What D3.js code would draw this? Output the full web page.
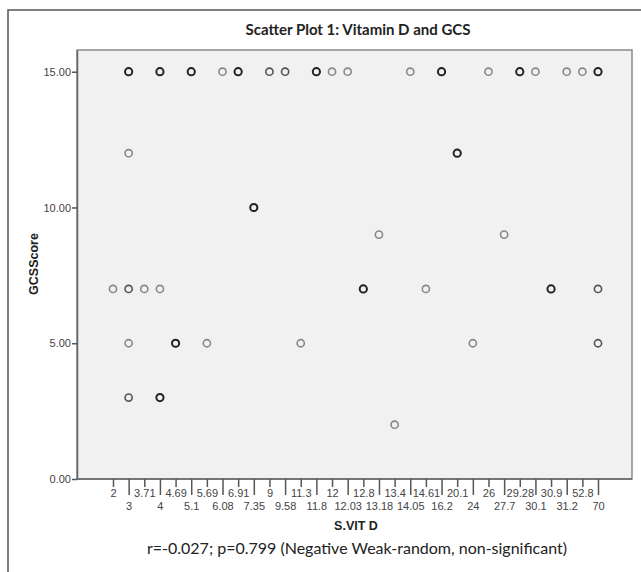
<!DOCTYPE html>
<html>
<head>
<meta charset="utf-8">
<script src="https://cdn.jsdelivr.net/npm/d3@7/dist/d3.min.js"></script>
<style>
  html, body { margin: 0; padding: 0; background: #fff; }
  svg { display: block; }
</style>
</head>
<body>
<svg id="chart" width="641" height="572"></svg>
<script>
// ---- data ----
const categories = ["2","3","3.71","4","4.69","5.1","5.69","6.08","6.91","7.35","9","9.58","11.3","11.8","12","12.03","12.8","13.18","13.4","14.05","14.61","16.2","20.1","24","26","27.7","29.28","30.1","30.9","31.2","52.8","70"];
const yTicks = [0, 5, 10, 15];
// points: S.VIT D category, GCS score, number of overlapping cases
const pointX = ["3","4","5.1","6.08","6.91","9","9.58","11.8","12","12.03","14.05","16.2","26","29.28","30.1","31.2","52.8","70",
                "3","20.1",
                "7.35",
                "13.18","27.7",
                "2","3","3.71","4","12.8","14.61","30.9","70",
                "3","4.69","5.69","11.3","24","70",
                "3","4",
                "13.4"];
const pointY = [15,15,15,15,15,15,15,15,15,15,15,15,15,15,15,15,15,15,
                12,12,
                10,
                9,9,
                7,7,7,7,7,7,7,7,
                5,5,5,5,5,5,
                3,3,
                2];
const pointN = [3,3,3,1,3,2,2,3,1,1,1,3,1,3,1,1,1,3,
                1,3,
                3,
                1,1,
                1,2,1,1,3,1,3,2,
                1,3,1,1,1,2,
                2,3,
                1];

// ---- layout ----
const svg = d3.select("#chart");
const plot = { left: 77, right: 632, top: 50, bottom: 479 };

// outer frame
svg.append("path")
  .attr("d", `M8,572 L8,10 L641,10`)
  .attr("fill", "none").attr("stroke", "#555").attr("stroke-width", 1.5);

// title
svg.append("text")
  .attr("x", 358).attr("y", 35)
  .attr("text-anchor", "middle")
  .style("font-family", "Lato, 'Open Sans', sans-serif")
  .style("font-weight", "bold").style("font-size", "15px").style("fill", "#222")
  .text("Scatter Plot 1: Vitamin D and GCS");

// plot background
svg.append("rect")
  .attr("x", plot.left).attr("y", plot.top)
  .attr("width", plot.right - plot.left).attr("height", plot.bottom - plot.top)
  .attr("fill", "#f1f1f1").attr("stroke", "#8a8a8a").attr("stroke-width", 1.5);

const x = d3.scalePoint().domain(categories).range([113, 598]);
const y = d3.scaleLinear().domain([0, 15.8]).range([plot.bottom, plot.top]);

// y axis
const gy = svg.append("g").attr("transform", `translate(${plot.left},0)`)
  .call(d3.axisLeft(y).tickValues(yTicks).tickFormat(d3.format(".2f")).tickSize(5).tickSizeOuter(0));
gy.select(".domain").attr("stroke", "#666").attr("stroke-width", 1.5);
gy.selectAll(".tick line").attr("stroke", "#555").attr("stroke-width", 1.5);
gy.selectAll(".tick text")
  .style("font-family", "Arial, 'Liberation Sans', sans-serif")
  .style("font-size", "11px").style("fill", "#444").attr("x", -6);

// x axis
const gx = svg.append("g").attr("transform", `translate(0,${plot.bottom})`)
  .call(d3.axisBottom(x).tickSizeOuter(0));
gx.select(".domain").attr("stroke", "#666").attr("stroke-width", 1.5)
  .attr("d", `M${plot.left},0H${plot.right}`);
gx.selectAll(".tick line")
  .attr("stroke", "#555").attr("stroke-width", 1.5)
  .attr("y2", (d, i) => i % 2 === 0 ? 8 : 16);
gx.selectAll(".tick text")
  .style("font-family", "Arial, 'Liberation Sans', sans-serif")
  .style("font-size", "11px").style("fill", "#444")
  .attr("y", (d, i) => i % 2 === 0 ? 10 : 23)
  .attr("dy", "0.71em");

// axis titles
svg.append("text")
  .attr("transform", `translate(38,264) rotate(-90)`)
  .attr("text-anchor", "middle")
  .style("font-family", "Arial, 'Liberation Sans', sans-serif")
  .style("font-weight", "bold").style("font-size", "12.5px").style("fill", "#222")
  .text("GCSScore");

svg.append("text")
  .attr("x", 356).attr("y", 530)
  .attr("text-anchor", "middle")
  .style("font-family", "Arial, 'Liberation Sans', sans-serif")
  .style("font-weight", "bold").style("font-size", "12.5px").style("fill", "#222")
  .text("S.VIT D");

// footnote
svg.append("text")
  .attr("x", 357).attr("y", 554)
  .attr("text-anchor", "middle")
  .style("font-family", "Lato, 'Open Sans', sans-serif")
  .style("font-size", "16px").style("fill", "#222")
  .text("r=-0.027; p=0.799 (Negative Weak-random, non-significant)");

// points
const pts = pointX.map((c, i) => ({ c, v: pointY[i], n: pointN[i] }));
const shade = n => n >= 3 ? "#222" : (n === 2 ? "#555" : "#888");
svg.append("g").selectAll("circle").data(pts).join("circle")
  .attr("cx", d => x(d.c))
  .attr("cy", d => y(d.v))
  .attr("r", 3.6)
  .attr("fill", "none")
  .attr("stroke", d => shade(d.n))
  .attr("stroke-width", d => d.n >= 3 ? 2 : 1.6);
</script>
</body>
</html>
